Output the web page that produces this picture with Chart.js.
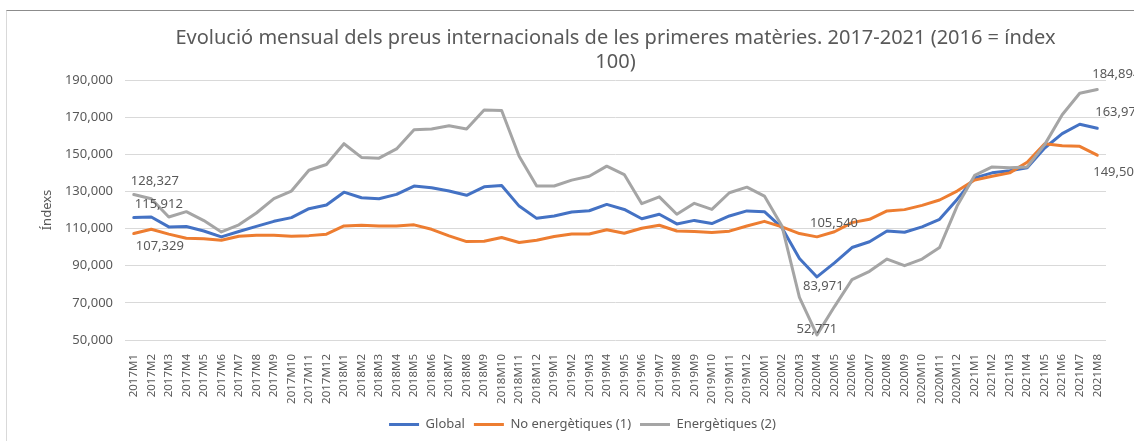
<!DOCTYPE html>
<html>
<head>
<meta charset="utf-8">
<script src="https://cdn.jsdelivr.net/npm/chart.js@4/dist/chart.umd.min.js"></script>
<style>
  html, body { margin: 0; padding: 0; background: #ffffff; overflow: hidden; width: 1134px; height: 441px; }
  #frame { position: absolute; left: 6px; top: 10px; width: 1300px; height: 600px;
           border-top: 1px solid #8c8c8c; border-left: 1px solid #d9d9d9; }
  #chart { position: absolute; left: 0; top: 0; }
</style>
</head>
<body>
<div id="frame"></div>
<canvas id="chart" width="1158" height="441"></canvas>
<script>
// Categories (mesos)
const months = [
  '2017M1','2017M2','2017M3','2017M4','2017M5','2017M6','2017M7','2017M8','2017M9','2017M10','2017M11','2017M12',
  '2018M1','2018M2','2018M3','2018M4','2018M5','2018M6','2018M7','2018M8','2018M9','2018M10','2018M11','2018M12',
  '2019M1','2019M2','2019M3','2019M4','2019M5','2019M6','2019M7','2019M8','2019M9','2019M10','2019M11','2019M12',
  '2020M1','2020M2','2020M3','2020M4','2020M5','2020M6','2020M7','2020M8','2020M9','2020M10','2020M11','2020M12',
  '2021M1','2021M2','2021M3','2021M4','2021M5','2021M6','2021M7','2021M8'
];

// Sèries (2016 = 100)
const globalIdx = [
  115.912, 116.2, 110.9, 111.1, 108.7, 105.5, 108.4, 111.2, 113.9, 115.9, 120.7, 122.7,
  129.6, 126.6, 126.1, 128.4, 132.9, 132.0, 130.2, 127.9, 132.5, 133.2, 122.1, 115.5,
  116.8, 118.9, 119.6, 123.0, 120.3, 115.3, 117.7, 112.5, 114.4, 112.7, 116.8, 119.5,
  119.1, 110.5, 93.9, 83.971, 91.5, 99.8, 102.9, 108.7, 108.0, 110.9, 115.0, 125.7,
  137.3, 140.0, 141.1, 142.7, 153.4, 161.1, 166.2, 163.975
];
const noEnergetiques = [
  107.329, 109.6, 107.0, 104.8, 104.5, 103.7, 105.9, 106.4, 106.4, 105.9, 106.2, 107.0,
  111.4, 111.8, 111.4, 111.4, 112.0, 109.6, 106.1, 103.0, 103.2, 105.2, 102.5, 103.7,
  105.7, 107.1, 107.1, 109.4, 107.5, 110.2, 111.8, 108.7, 108.4, 107.9, 108.6, 111.4,
  113.9, 110.9, 107.3, 105.540, 108.3, 113.2, 115.0, 119.5, 120.2, 122.5, 125.4, 130.2,
  136.1, 138.2, 140.0, 145.7, 155.7, 154.6, 154.3, 149.503
];
const energetiques = [
  128.327, 126.1, 116.2, 119.1, 114.3, 108.2, 112.0, 118.4, 126.1, 130.2, 141.4, 144.5,
  155.7, 148.3, 147.9, 152.9, 163.2, 163.6, 165.4, 163.6, 173.9, 173.6, 148.9, 132.9,
  132.9, 136.1, 138.2, 143.6, 139.1, 123.4, 127.1, 117.7, 123.6, 120.3, 129.3, 132.3,
  127.5, 111.4, 73.0, 52.771, 68.0, 82.5, 87.0, 93.6, 90.0, 93.6, 99.8, 122.1,
  138.6, 143.2, 142.7, 143.2, 155.2, 171.3, 182.9, 184.894
];

// Eix Y
const yMin = 50;
const yMax = 190;
const yStep = 20;

const textColor = '#595959';
const fontFamily = '"Noto Sans", sans-serif';

function fmt(v) {
  return v.toFixed(3).replace('.', ',');
}

// Etiquetes de dades: sèrie, punt, desplaçament
const pointLabels = [
  { ds: 2, idx: 0,  dx: -3,  dy: -13, align: 'left' },
  { ds: 0, idx: 0,  dx: 1,   dy: -13, align: 'left' },
  { ds: 1, idx: 0,  dx: 2,   dy: 13,  align: 'left' },
  { ds: 1, idx: 39, dx: -7,  dy: -14, align: 'left' },
  { ds: 0, idx: 39, dx: -14, dy: 9,   align: 'left' },
  { ds: 2, idx: 39, dx: 0,   dy: -6,  align: 'center' },
  { ds: 2, idx: 55, dx: -5,  dy: -15, align: 'left' },
  { ds: 0, idx: 55, dx: -2,  dy: -16, align: 'left' },
  { ds: 1, idx: 55, dx: -4,  dy: 17,  align: 'left' }
];

const labelsPlugin = {
  id: 'pointLabels',
  afterDatasetsDraw(chart) {
    const ctx = chart.ctx;
    ctx.save();
    ctx.font = '13px ' + fontFamily;
    ctx.fillStyle = textColor;
    ctx.textBaseline = 'middle';
    pointLabels.forEach(l => {
      const pt = chart.getDatasetMeta(l.ds).data[l.idx];
      const value = chart.data.datasets[l.ds].data[l.idx];
      ctx.textAlign = l.align;
      ctx.fillText(fmt(value), pt.x + l.dx, pt.y + l.dy);
    });
    ctx.restore();
  }
};

function line(label, data, color, order) {
  return {
    label: label,
    data: data,
    borderColor: color,
    backgroundColor: color,
    borderWidth: 3,
    pointRadius: 0,
    tension: 0,
    borderJoinStyle: 'round',
    borderCapStyle: 'round',
    order: order
  };
}

const ctx = document.getElementById('chart').getContext('2d');
new Chart(ctx, {
  type: 'line',
  data: {
    labels: months,
    datasets: [
      line('Global', globalIdx, '#4472C4', 3),
      line('No energètiques (1)', noEnergetiques, '#ED7D31', 2),
      line('Energètiques (2)', energetiques, '#A5A5A5', 1)
    ]
  },
  options: {
    responsive: false,
    animation: false,
    layout: { padding: { left: 7, top: 12, right: 0, bottom: 0 } },
    plugins: {
      tooltip: { enabled: false },
      title: {
        display: true,
        fullSize: false,
        text: ['Evolució mensual dels preus internacionals de les primeres matèries. 2017-2021 (2016 = índex', '100)'],
        color: textColor,
        font: { family: fontFamily, size: 20, weight: 'normal', lineHeight: 1.2 },
        padding: { top: 14, bottom: 6 }
      },
      legend: {
        position: 'bottom',
        labels: {
          usePointStyle: true,
          pointStyle: 'line',
          pointStyleWidth: 30,
          color: textColor,
          font: { family: fontFamily, size: 13 },
          padding: 9,
          sort: (a, b) => a.datasetIndex - b.datasetIndex
        }
      }
    },
    scales: {
      x: {
        offset: true,
        grid: { display: false },
        border: { display: false },
        ticks: {
          autoSkip: false,
          minRotation: 90,
          maxRotation: 90,
          padding: 6,
          color: textColor,
          font: { family: fontFamily, size: 11.5 }
        },
        afterFit(scale) { scale.height = 69; }
      },
      y: {
        min: yMin,
        max: yMax,
        ticks: {
          stepSize: yStep,
          padding: 12,
          color: textColor,
          font: { family: fontFamily, size: 13 },
          callback: v => fmt(v)
        },
        grid: { color: '#d9d9d9', lineWidth: 1, drawTicks: false },
        border: { display: false },
        title: {
          display: true,
          text: 'Índexs',
          color: textColor,
          font: { family: fontFamily, size: 13 },
          padding: { top: 32, bottom: 0 }
        },
        afterFit(scale) { scale.width = 118; }
      },
      yRight: {
        position: 'right',
        display: true,
        grid: { display: false },
        border: { display: false },
        ticks: { display: false },
        afterFit(scale) { scale.width = 52; }
      }
    }
  },
  plugins: [labelsPlugin]
});
</script>
</body>
</html>
